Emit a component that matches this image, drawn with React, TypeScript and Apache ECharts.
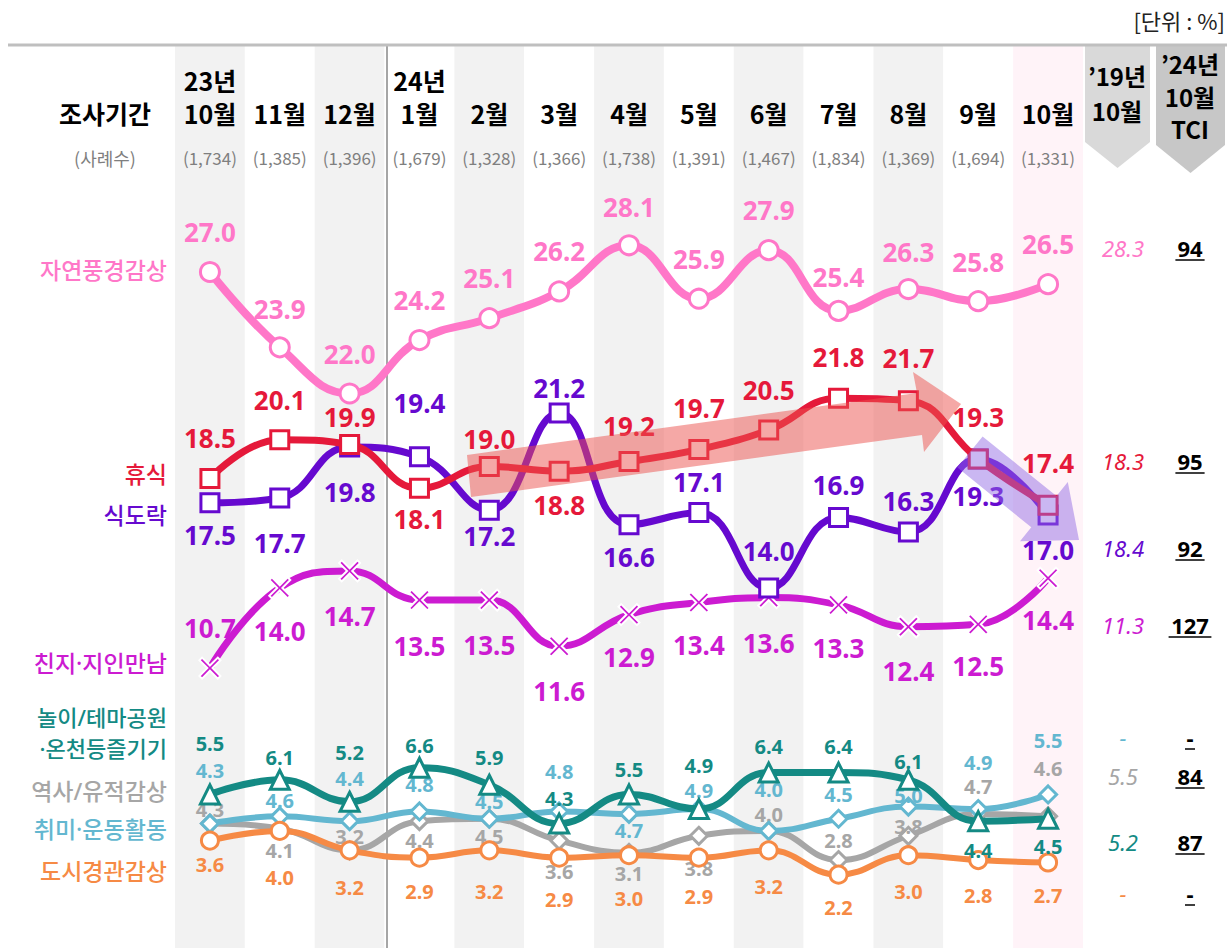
import React, { useEffect, useRef } from 'react';
import * as echarts from 'echarts';

// ---------- data ----------
const months = ['10월', '11월', '12월', '1월', '2월', '3월', '4월', '5월', '6월', '7월', '8월', '9월', '10월'];
const yearTags = ['23년', '', '', '24년', '', '', '', '', '', '', '', '', ''];
const sampleSizes = ['1,734', '1,385', '1,396', '1,679', '1,328', '1,366', '1,738', '1,391', '1,467', '1,834', '1,369', '1,694', '1,331'];

const nature = [27.0, 23.9, 22.0, 24.2, 25.1, 26.2, 28.1, 25.9, 27.9, 25.4, 26.3, 25.8, 26.5];
const rest = [18.5, 20.1, 19.9, 18.1, 19.0, 18.8, 19.2, 19.7, 20.5, 21.8, 21.7, 19.3, 17.4];
const food = [17.5, 17.7, 19.8, 19.4, 17.2, 21.2, 16.6, 17.1, 14.0, 16.9, 16.3, 19.3, 17.0];
const family = [10.7, 14.0, 14.7, 13.5, 13.5, 11.6, 12.9, 13.4, 13.6, 13.3, 12.4, 12.5, 14.4];
const themePark = [5.5, 6.1, 5.2, 6.6, 5.9, 4.3, 5.5, 4.9, 6.4, 6.4, 6.1, 4.4, 4.5];
const history = [4.3, 4.1, 3.2, 4.4, 4.5, 3.6, 3.1, 3.8, 4.0, 2.8, 3.8, 4.7, 4.6];
const hobby = [4.3, 4.6, 4.4, 4.8, 4.5, 4.8, 4.7, 4.9, 4.0, 4.5, 5.0, 4.9, 5.5];
const city = [3.6, 4.0, 3.2, 2.9, 3.2, 2.9, 3.0, 2.9, 3.2, 2.2, 3.0, 2.8, 2.7];

// side table rows (top to bottom): nature, rest, food, family, hobby, history, themePark, city
const ref2019 = [28.3, 18.3, 18.4, 11.3, null, 5.5, 5.2, null];
const tci2024 = [94, 95, 92, 127, null, 84, 87, null];

// ---------- layout (label nudges, px) ----------
const natureDy = [-40, -38, -40, -40, -40, -40, -38, -40, -40, -34, -37, -39, -40];
const restDy = [-41, -40, -28, 31, -27, 34, -36, -41, -40, -41, -43, -42, -42];
const foodDy = [32, 45, 45, -54, 26, -25, 32, -31, -37, -32, -31, 37, 35];
const familyDy = [-40, 43, 45, 46, 45, 45, 42, 43, 45, 43, 44, 42, 42];
const themeDy = [-51, -22, -49, -22, -27, -25, -25, -44, -26, -26, -18, 29, 28];
const historyDy = [-14, 22, -14, 19, 18, 31, 21, 33, -16, -20, -9, -27, -48];
const hobbyDy = [-53, -16, -43, -27, -17, -40, 17, -19, -41, -24, -11, -47, -54];
const cityDy = [24, 47, 37, 34, 41, 42, 43, 39, 36, 33, 36, 35, 33];

const C = {
  pink: '#FF77C8',
  red: '#E5193A',
  purple: '#6609CF',
  magenta: '#CC1BD1',
  teal: '#148A84',
  gray: '#A6A6A6',
  blue: '#63B7D0',
  orange: '#F68A45',
};

const FONT_KR = '"Noto Sans CJK KR", "Noto Sans", sans-serif';
const FONT_MIX = '"Noto Sans", "Noto Sans CJK KR", sans-serif';
const FONT_NUM = '"Noto Sans", "Open Sans", sans-serif';

const X_PATH = 'path://M2.5,0 L10,7.5 L17.5,0 L20,2.5 L12.5,10 L20,17.5 L17.5,20 L10,12.5 L2.5,20 L0,17.5 L7.5,10 L0,2.5 Z';

function lineSeries(name: string, data: number[], color: string, dys: number[], o: any) {
  return {
    type: 'line',
    name,
    data: data.map((v, i) => ({ value: v, label: { offset: [0, dys[i]] } })),
    smooth: 0.45,
    symbol: o.symbol,
    symbolSize: o.size,
    z: o.z,
    lineStyle: { color, width: o.width },
    itemStyle: o.itemStyle || { color: '#fff', borderColor: color, borderWidth: o.border || 3 },
    label: {
      show: true,
      position: 'inside',
      color,
      fontFamily: FONT_NUM,
      fontWeight: 'bold',
      fontSize: o.fontSize,
      lineHeight: o.lineHeight,
      formatter: (p: any) => Number(p.value).toFixed(1),
    },
    emphasis: { disabled: true },
    silent: true,
  };
}

function txt(x: number, y: number, text: string, font: string, fill: string, align = 'center', extra: any = {}) {
  return {
    type: 'text',
    x,
    y,
    z: 20,
    silent: true,
    style: { text, font, fill, align, textAlign: align, verticalAlign: 'middle', textVerticalAlign: 'middle', ...extra },
  };
}

export default function App() {
  const ref = useRef<HTMLDivElement>(null);

  useEffect(() => {
    document.body.style.margin = '0';
    const chart = echarts.init(ref.current!, null, { renderer: 'svg' });

    const bandColor = (i: number) => (i === months.length - 1 ? '#FFF3F8' : i % 2 === 0 ? '#F2F2F2' : '#FFFFFF');

    const leftLabels = [
      { t: '자연풍경감상', y: 270, c: C.pink },
      { t: '휴식', y: 474, c: C.red },
      { t: '식도락', y: 515, c: C.purple },
      { t: '친지·지인만남', y: 663, c: C.magenta },
      { t: '놀이/테마공원\n·온천등즐기기', y: 732, c: C.teal, s: 22 },
      { t: '역사/유적감상', y: 791, c: C.gray },
      { t: '취미·운동활동', y: 829, c: C.blue },
      { t: '도시경관감상', y: 871, c: C.orange },
    ];

    const sideRowsY = [248, 461, 548, 625, 737, 776, 842, 893];
    const sideColors = [C.pink, C.red, C.purple, C.magenta, C.blue, C.gray, C.teal, C.orange];

    const graphic: any[] = [];
    graphic.push({ type: 'line', z: 5, silent: true, shape: { x1: 8, y1: 45, x2: 1227, y2: 45 }, style: { stroke: '#BFBFBF', lineWidth: 3 } });
    graphic.push({ type: 'line', z: 1, silent: true, shape: { x1: 387, y1: 46, x2: 387, y2: 948 }, style: { stroke: '#A6A6A6', lineWidth: 2 } });
    graphic.push({
      type: 'polygon', z: 1, silent: true,
      shape: { points: [[1085, 46], [1150, 46], [1150, 142], [1117.5, 168], [1085, 142]] },
      style: { fill: '#D9D9D9' },
    });
    graphic.push({
      type: 'polygon', z: 1, silent: true,
      shape: { points: [[1156, 46], [1225, 46], [1225, 145], [1190.5, 173], [1156, 145]] },
      style: { fill: '#C7C7C7' },
    });
    graphic.push(txt(1117, 93, '’19년\n10월', `bold 24px ${FONT_KR}`, '#000', 'center', { lineHeight: 35 }));
    graphic.push(txt(1190, 96, '’24년\n10월\nTCI', `bold 24px ${FONT_KR}`, '#000', 'center', { lineHeight: 32.5 }));
    graphic.push(txt(1225, 20, '[단위 : %]', `22px ${FONT_KR}`, '#222', 'right'));
    graphic.push(txt(105, 113, '조사기간', `bold 25px ${FONT_KR}`, '#000'));
    graphic.push(txt(105, 158, '(사례수)', `18px ${FONT_KR}`, '#7F7F7F'));
    leftLabels.forEach((l) =>
      graphic.push(txt(167, l.y, l.t, `500 ${l.s || 23}px ${FONT_MIX}`, l.c, 'right', { lineHeight: 31 }))
    );

    sideRowsY.forEach((y, i) => {
      const r = ref2019[i];
      graphic.push(txt(1123, y, r == null ? '-' : r.toFixed(1), `italic 22px ${FONT_NUM}`, sideColors[i]));
      const t = tci2024[i];
      const s = t == null ? '-' : String(t);
      graphic.push(txt(1190, y, s, `bold 22px ${FONT_NUM}`, '#000'));
      const hw = t == null ? 5 : s.length * 6.8 + 1;
      graphic.push({
        type: 'line', z: 20, silent: true,
        shape: { x1: 1190 - hw, y1: y + 12, x2: 1190 + hw, y2: y + 12 },
        style: { stroke: '#000', lineWidth: 1.5 },
      });
    });

    // trend arrows
    graphic.push({
      type: 'polygon', z: 30, silent: true,
      shape: { points: [[467, 455], [917, 393], [913, 372], [961, 404], [924, 452], [922, 435], [471, 497]] },
      style: { fill: 'rgba(236, 82, 78, 0.5)' },
    });
    graphic.push({
      type: 'polygon', z: 30, silent: true,
      shape: { points: [[982.6, 436.4], [1056.5, 496.1], [1067.8, 482.1], [1079, 540], [1020, 541.3], [1031.3, 527.3], [957.4, 467.6]] },
      style: { fill: 'rgba(145, 105, 228, 0.48)' },
    });

    const option: any = {
      animation: false,
      grid: { left: 175, right: 144, top: 45, bottom: 0, containLabel: false },
      xAxis: {
        type: 'category',
        data: months,
        position: 'top',
        axisLine: { show: false },
        axisTick: { show: false },
        splitLine: { show: false },
        axisLabel: {
          inside: true,
          interval: 0,
          margin: 18,
          formatter: (v: string, i: number) =>
            `{y|${yearTags[i] || ' '}}\n{m|${v}}\n{n|(${sampleSizes[i]})}`,
          rich: {
            y: { fontFamily: FONT_KR, fontWeight: 'bold', fontSize: 25, lineHeight: 33, color: '#000', align: 'center' },
            m: { fontFamily: FONT_KR, fontWeight: 'bold', fontSize: 25, lineHeight: 33, color: '#000', align: 'center' },
            n: { fontFamily: FONT_KR, fontSize: 17, lineHeight: 57, color: '#7F7F7F', align: 'center' },
          },
        },
      },
      yAxis: [
        { type: 'value', min: -0.819, max: 36.342, show: false },
        { type: 'value', min: 0, max: 1, show: false },
      ],
      series: [
        {
          type: 'bar',
          yAxisIndex: 1,
          data: months.map((_, i) => ({ value: 1, itemStyle: { color: bandColor(i) } })),
          barWidth: '100%',
          barCategoryGap: '0%',
          silent: true,
          z: 0,
        },
        lineSeries('역사/유적감상', history, C.gray, historyDy, { symbol: 'diamond', size: 17, width: 6, fontSize: 20, lineHeight: 16, z: 3 }),
        lineSeries('취미·운동활동', hobby, C.blue, hobbyDy, { symbol: 'diamond', size: 17, width: 6, fontSize: 20, lineHeight: 16, z: 4 }),
        lineSeries('도시경관감상', city, C.orange, cityDy, { symbol: 'circle', size: 17, width: 6, fontSize: 20, lineHeight: 16, z: 5 }),
        lineSeries('놀이/테마공원·온천등즐기기', themePark, C.teal, themeDy, { symbol: 'triangle', size: 19, width: 7, fontSize: 20, lineHeight: 16, z: 6 }),
        lineSeries('친지·지인만남', family, C.magenta, familyDy, {
          symbol: X_PATH, size: 21, width: 7, fontSize: 26, lineHeight: 22, z: 7,
          itemStyle: { color: C.magenta, borderColor: '#fff', borderWidth: 2 },
        }),
        lineSeries('식도락', food, C.purple, foodDy, { symbol: 'rect', size: 18, width: 7, fontSize: 26, lineHeight: 22, z: 8 }),
        lineSeries('휴식', rest, C.red, restDy, { symbol: 'rect', size: 18, width: 7, fontSize: 26, lineHeight: 22, z: 9 }),
        lineSeries('자연풍경감상', nature, C.pink, natureDy, { symbol: 'circle', size: 19, width: 8, fontSize: 26, lineHeight: 22, z: 10 }),
      ],
      graphic,
    };

    chart.setOption(option);
    return () => chart.dispose();
  }, []);

  return <div ref={ref} style={{ width: 1227, height: 948 }} />;
}
